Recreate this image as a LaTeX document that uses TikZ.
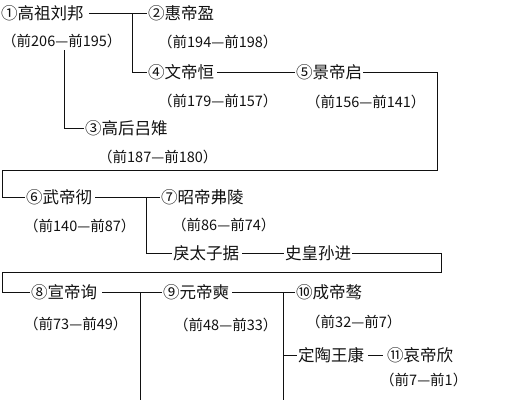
\documentclass[tikz,border=0pt]{standalone}
\usepackage{fontspec}
\newfontfamily\cjk{Noto Sans CJK SC}
\usepackage{tikz}
\usetikzlibrary{positioning}
\definecolor{ink}{HTML}{111111}
\tikzset{
  ruler/.style={anchor=west,inner sep=1pt,text=ink,font=\cjk\fontsize{16.5}{18}\selectfont},
  reign/.style={anchor=west,inner sep=1pt,text=ink,font=\cjk\fontsize{14.5}{16}\selectfont},
  link/.style={draw=ink,line width=0.8pt}
}

\begin{document}
\begin{tikzpicture}[x=1pt,y=-1pt]
  \useasboundingbox (0,0) rectangle (509,400);
  \clip (0,0) rectangle (509,400);
  % first generations
  \node[ruler] (gaozu) at (0,13) {①高祖刘邦};
  \node[reign] (gaozuy) at (1,41) {（前206—前195）};
  \node[ruler] (huidi) at (147,13) {②惠帝盈};
  \node[reign] (huidiy) at (157,42) {（前194—前198）};
  \node[ruler] (wendi) at (147,72) {④文帝恒};
  \node[reign] (wendiy) at (157,101) {（前179—前157）};
  \node[ruler] (lvhou) at (84,128) {③高后吕雉};
  \node[reign] (lvhouy) at (97,157) {（前187—前180）};
  \node[ruler] (jingdi) at (295,72) {⑤景帝启};
  \node[reign] (jingdiy) at (305,102) {（前156—前141）};
  \coordinate (b1) at (132,13);
  \coordinate (b2) at (64,50);
  \draw[link] ([xshift=4pt]gaozu.east) -- (huidi.west);
  \draw[link] (b1) |- (wendi.west);
  \draw[link] (b2) |- (lvhou.west);
  \draw[link] ([xshift=2pt]wendi.east) -- (jingdi.west);
  % Wudi branch
  \node[ruler] (wudi) at (25,197) {⑥武帝彻};
  \node[reign] (wudiy) at (23,226) {（前140—前87）};
  \node[ruler] (zhaodi) at (160,197) {⑦昭帝弗陵};
  \node[reign] (zhaodiy) at (171,225) {（前86—前74）};
  \node[ruler] (lijuzi) at (172,253) {戾太子据};
  \node[ruler] (shihuang) at (284,253) {史皇孙进};
  \coordinate (b3) at (146,197);
  \draw[link] (jingdi.east) -| (437,170) -| ([xshift=-23pt]wudi.west) -- (wudi.west);
  \draw[link] ([xshift=2pt]wudi.east) -- (zhaodi.west);
  \draw[link] (b3) |- (lijuzi.west);
  \draw[link] ([xshift=2pt]lijuzi.east) -- (shihuang.west);
  % Xuandi branch
  \node[ruler] (xuandi) at (30,292) {⑧宣帝询};
  \node[reign] (xuandiy) at (23,324) {（前73—前49）};
  \node[ruler] (yuandi) at (162,292) {⑨元帝奭};
  \node[reign] (yuandiy) at (173,325) {（前48—前33）};
  \node[ruler] (chengdi) at (295,292) {⑩成帝骜};
  \node[reign] (chengdiy) at (305,322) {（前32—前7）};
  \node[ruler] (dingtao) at (297,355) {定陶王康};
  \node[ruler] (aidi) at (386,355) {⑪哀帝欣};
  \node[reign] (aidiy) at (379,380) {（前7—前1）};
  \coordinate (b4) at (140,293);
  \coordinate (b5) at (283,293);
  \coordinate (e4) at (140,400);
  \coordinate (e5) at (283,400);
  \draw[link] (shihuang.east) -| (441,272) -| ([xshift=-28pt]xuandi.west) -- (xuandi.west);
  \draw[link] ([xshift=4pt]xuandi.east) -- (yuandi.west);
  \draw[link] ([xshift=2pt]yuandi.east) -- (chengdi.west);
  \draw[link] (b4) -- (e4);
  \draw[link] (b5) -- (e5);
  \draw[link] (b5 |- dingtao) -- (dingtao.west);
  \draw[link] ([xshift=3pt]dingtao.east) -- ([xshift=-3pt]aidi.west);
\end{tikzpicture}
\end{document}
